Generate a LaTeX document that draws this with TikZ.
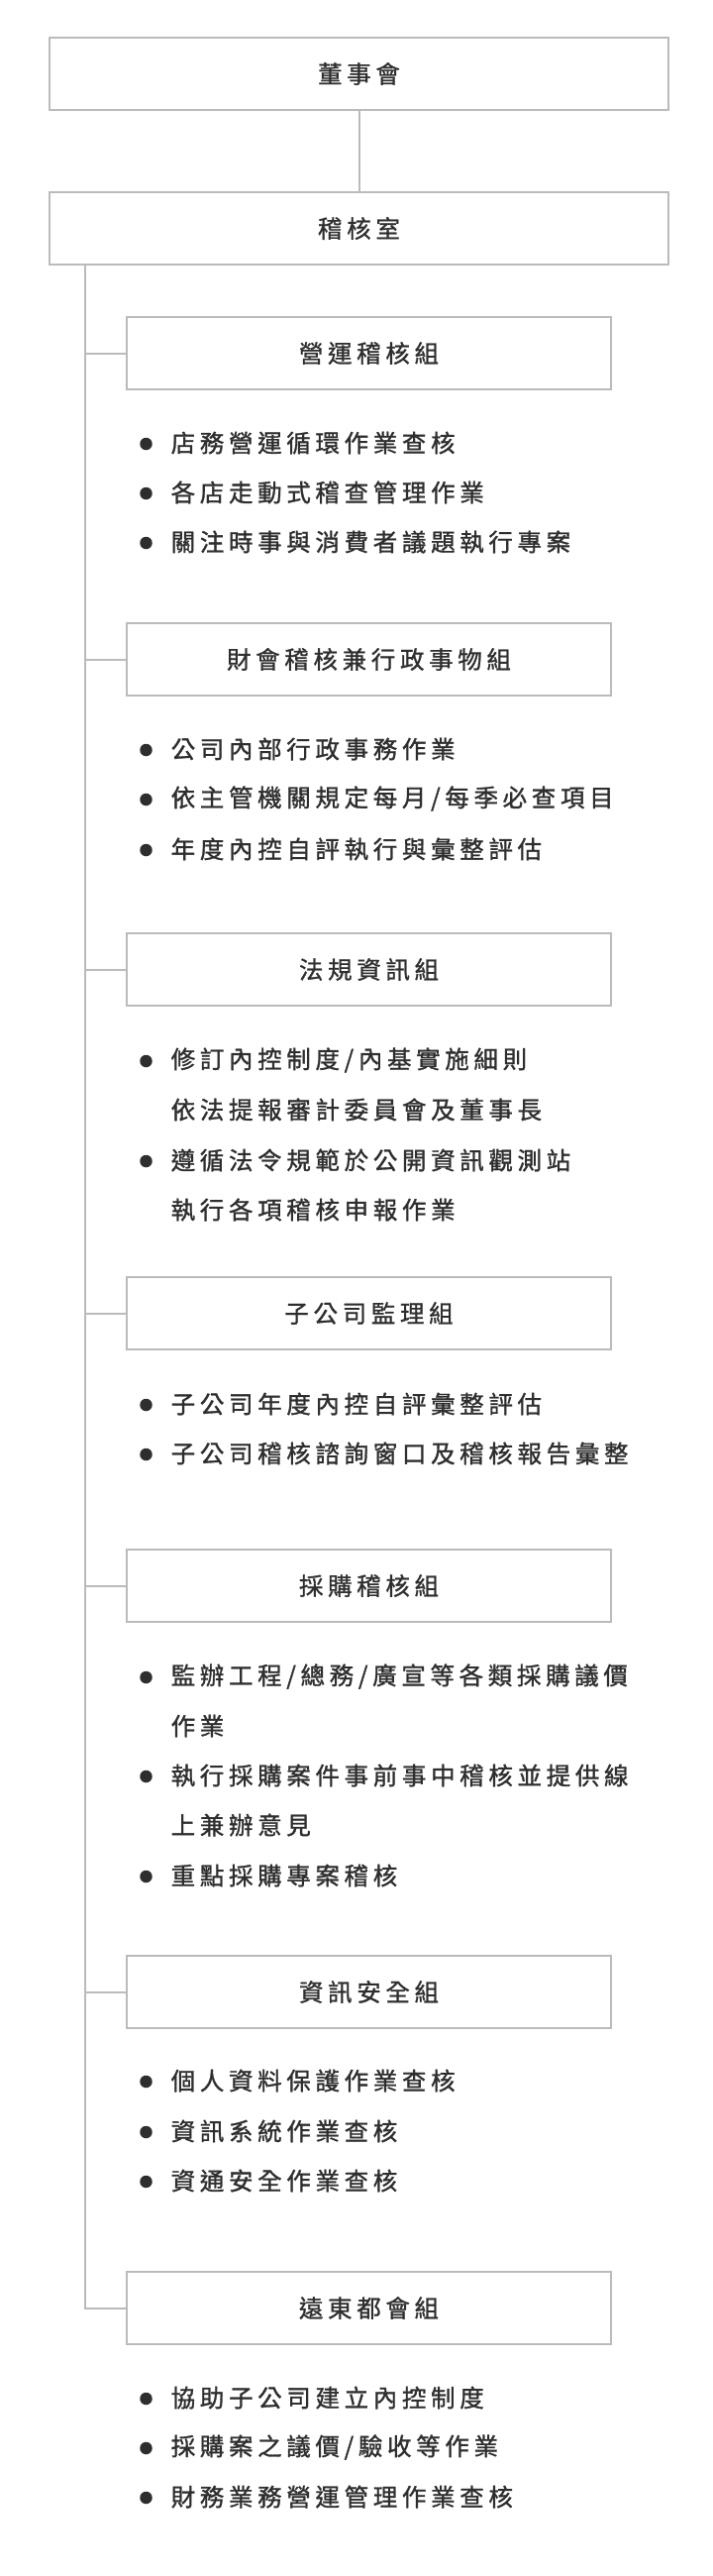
\documentclass[tikz,border=0pt]{standalone}
\usepackage{fontspec}
\newfontfamily\cjkitem[LetterSpace=19,FakeBold=1.2]{Noto Sans CJK TC}
\newfontfamily\cjktitle[LetterSpace=19,FakeBold=1.0]{Noto Sans CJK TC}
\usetikzlibrary{calc}
\definecolor{linegray}{HTML}{BBBBBB}
\definecolor{textgray}{HTML}{2E2E2E}
\tikzset{
  topbox/.style={draw=linegray, line width=2pt, minimum width=625pt, minimum height=73pt, inner sep=0pt, font=\cjktitle\fontsize{24.5pt}{30pt}\selectfont, text=textgray},
  grpbox/.style={draw=linegray, line width=2pt, minimum width=489pt, minimum height=73pt, inner sep=0pt, font=\cjktitle\fontsize{24.5pt}{30pt}\selectfont, text=textgray},
  conn/.style={draw=linegray, line width=2pt},
  item/.style={anchor=west, inner sep=0pt, font=\cjkitem\fontsize{24.5pt}{30pt}\selectfont, text=textgray},
  dot/.style={circle, fill=textgray, minimum size=12.5pt, inner sep=0pt},
}
\begin{document}
\begin{tikzpicture}[x=1pt,y=-1pt]
\useasboundingbox (0,0) rectangle (720,2600);
\fill[white] (0,0) rectangle (720,2600);

\node[topbox] (board) at (362.5,74.5) {董事會};
\node[topbox] (audit) at (362.5,230.5) {稽核室};
\draw[conn] (board) -- (audit);
\coordinate (trunk) at (86,267);

\node[grpbox] (g1) at (372.5,356.5) {營運稽核組};
\node[grpbox] (g2) at (372.5,665.5) {財會稽核兼行政事物組};
\node[grpbox] (g3) at (372.5,978.5) {法規資訊組};
\node[grpbox] (g4) at (372.5,1325.5) {子公司監理組};
\node[grpbox] (g5) at (372.5,1600.5) {採購稽核組};
\node[grpbox] (g6) at (372.5,2010.5) {資訊安全組};
\node[grpbox] (g7) at (372.5,2329.5) {遠東都會組};

\draw[conn] (trunk) |- (g7.west);
\foreach \g in {g1,g2,g3,g4,g5,g6}{
  \draw[conn] (\g.west) -- (\g.west -| trunk);
}

% group 1
\node[dot] (b11) at (147.5,448) {};
\node[item] (t11) at (172.5,447) {店務營運循環作業查核};
\node[dot] (b12) at (147.5,498) {};
\node[item] (t12) at (172.5,497) {各店走動式稽查管理作業};
\node[dot] (b13) at (147.5,548) {};
\node[item] (t13) at (172.5,547) {關注時事與消費者議題執行專案};
% group 2
\node[dot] (b21) at (147.5,757) {};
\node[item] (t21) at (172.5,756) {公司內部行政事務作業};
\node[dot] (b22) at (147.5,807) {};
\node[item] (t22) at (172.5,806) {依主管機關規定每月/每季必查項目};
\node[dot] (b23) at (147.5,858) {};
\node[item] (t23) at (172.5,857) {年度內控自評執行與彙整評估};
% group 3
\node[dot] (b31) at (147.5,1071) {};
\node[item] (t31) at (172.5,1070) {修訂內控制度/內基實施細則};
\node[item] (t31b) at (172.5,1120) {依法提報審計委員會及董事長};
\node[dot] (b32) at (147.5,1172) {};
\node[item] (t32) at (172.5,1171) {遵循法令規範於公開資訊觀測站};
\node[item] (t32b) at (172.5,1221) {執行各項稽核申報作業};
% group 4
\node[dot] (b41) at (147.5,1418) {};
\node[item] (t41) at (172.5,1417) {子公司年度內控自評彙整評估};
\node[dot] (b42) at (147.5,1468) {};
\node[item] (t42) at (172.5,1467) {子公司稽核諮詢窗口及稽核報告彙整};
% group 5
\node[dot] (b51) at (147.5,1693) {};
\node[item] (t51) at (172.5,1692) {監辦工程/總務/廣宣等各類採購議價};
\node[item] (t51b) at (172.5,1742) {作業};
\node[dot] (b52) at (147.5,1793) {};
\node[item] (t52) at (172.5,1792) {執行採購案件事前事中稽核並提供線};
\node[item] (t52b) at (172.5,1842) {上兼辦意見};
\node[dot] (b53) at (147.5,1894) {};
\node[item] (t53) at (172.5,1893) {重點採購專案稽核};
% group 6
\node[dot] (b61) at (147.5,2101) {};
\node[item] (t61) at (172.5,2100) {個人資料保護作業查核};
\node[dot] (b62) at (147.5,2152) {};
\node[item] (t62) at (172.5,2151) {資訊系統作業查核};
\node[dot] (b63) at (147.5,2202) {};
\node[item] (t63) at (172.5,2201) {資通安全作業查核};
% group 7
\node[dot] (b71) at (147.5,2421) {};
\node[item] (t71) at (172.5,2420) {協助子公司建立內控制度};
\node[dot] (b72) at (147.5,2471) {};
\node[item] (t72) at (172.5,2470) {採購案之議價/驗收等作業};
\node[dot] (b73) at (147.5,2521) {};
\node[item] (t73) at (172.5,2520) {財務業務營運管理作業查核};
\end{tikzpicture}
\end{document}
